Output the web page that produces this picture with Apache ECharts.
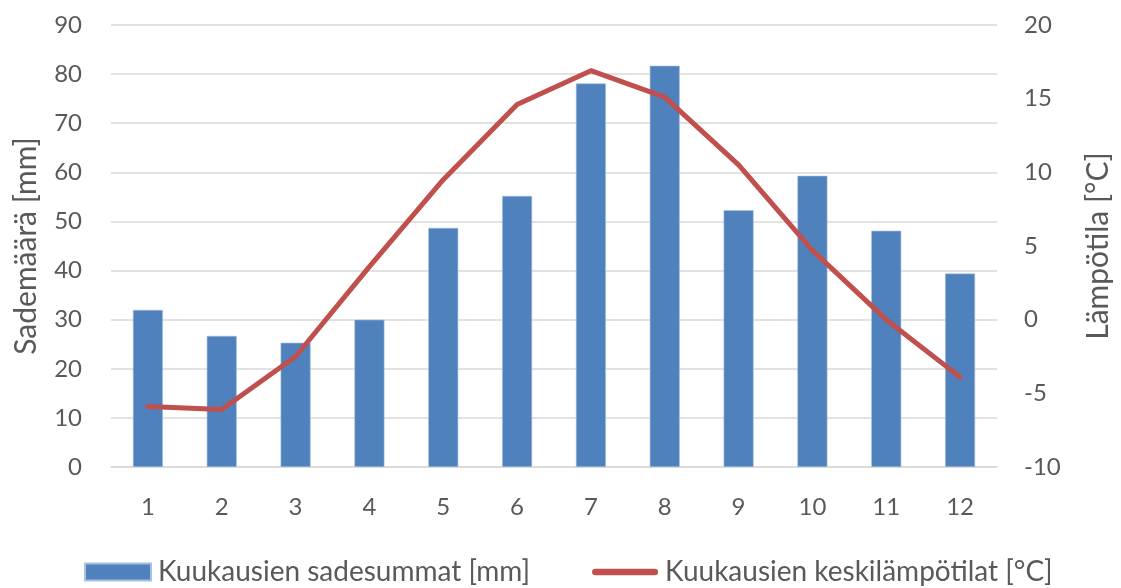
<!DOCTYPE html>
<html>
<head>
<meta charset="utf-8">
<script src="https://cdn.jsdelivr.net/npm/echarts@6/dist/echarts.min.js"></script>
<style>
html,body{margin:0;padding:0;background:#fff;}
#c{width:1121px;height:588px;}
</style>
</head>
<body>
<div id="c"></div>
<script>
const months = ['1','2','3','4','5','6','7','8','9','10','11','12'];
const rainfall = [32.0, 26.7, 25.3, 30.0, 48.7, 55.2, 78.1, 81.7, 52.3, 59.3, 48.1, 39.4];
const temperature = [-5.9, -6.1, -2.5, 3.6, 9.5, 14.6, 16.9, 15.1, 10.5, 4.7, 0.0, -3.9];
const rainName = 'Kuukausien sadesummat [mm]';
const tempName = 'Kuukausien keskilämpötilat [°C]';
const leftAxisName = 'Sademäärä [mm]';
const rightAxisName = 'Lämpötila [°C]';

const FONT = 'Lato';
const TXT = '#595959';
const chart = echarts.init(document.getElementById('c'), null, {renderer:'canvas'});
chart.setOption({
  animation: false,
  textStyle: {fontFamily: FONT},
  grid: {left: 111, right: 120, top: 25, bottom: 121, containLabel: false},
  legend: {
    top: 558,
    left: 84,
    padding: 0,
    itemWidth: 66,
    itemHeight: 17,
    itemGap: 62,
    textStyle: {fontFamily: FONT, fontSize: 28, lineHeight: 28, color: TXT, padding: [0,0,0,2]},
    data: [
      {name: rainName, icon: 'rect'},
      {name: tempName, icon: 'path://M3.5,0 L66.5,0 A3.5,3.5 0 0 1 66.5,7 L3.5,7 A3.5,3.5 0 0 1 3.5,0 Z'}
    ]
  },
  xAxis: {
    type: 'category',
    data: months,
    axisLine: {show: true, lineStyle: {color: '#D9D9D9', width: 1.5}},
    axisTick: {show: false},
    axisLabel: {color: TXT, fontSize: 24, fontFamily: FONT, margin: 28}
  },
  yAxis: [
    {
      type: 'value', min: 0, max: 90, interval: 10,
      name: leftAxisName, nameLocation: 'middle', nameGap: 70, nameRotate: 90,
      nameTextStyle: {color: TXT, fontSize: 30, fontFamily: FONT},
      axisLine: {show: false}, axisTick: {show: false},
      axisLabel: {color: TXT, fontSize: 24, fontFamily: FONT, margin: 29},
      splitLine: {show: true, lineStyle: {color: '#D9D9D9', width: 1.5}}
    },
    {
      type: 'value', min: -10, max: 20, interval: 5,
      name: rightAxisName, nameLocation: 'middle', nameGap: 86, nameRotate: 90,
      nameTextStyle: {color: TXT, fontSize: 30, fontFamily: FONT},
      axisLine: {show: false}, axisTick: {show: false},
      axisLabel: {color: TXT, fontSize: 24, fontFamily: FONT, margin: 27},
      splitLine: {show: false}
    }
  ],
  series: [
    {
      name: rainName, type: 'bar', yAxisIndex: 0, data: rainfall,
      barWidth: 30,
      itemStyle: {color: '#4F81BD', borderColor: '#A9C1E0', borderWidth: 0.6}
    },
    {
      name: tempName, type: 'line', yAxisIndex: 1, data: temperature,
      symbol: 'none', smooth: false,
      lineStyle: {color: '#C0504D', width: 5, cap: 'round', join: 'round'},
      itemStyle: {color: '#C0504D'}
    }
  ]
});
</script>
</body>
</html>
